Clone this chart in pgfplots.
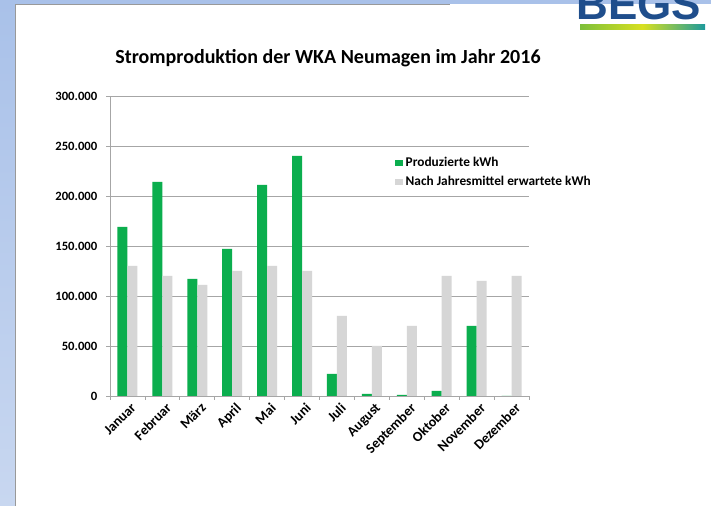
\documentclass[border=0pt]{standalone}
\usepackage{pgfplots}
\pgfplotsset{compat=1.18}
\usepackage{fontspec}
\setmainfont{Carlito}
\newfontfamily\logofont{Liberation Sans}
\definecolor{barGreen}{HTML}{0BAE4E}
\definecolor{barGray}{HTML}{D6D6D6}
\definecolor{gridGray}{HTML}{A6A6A6}
\definecolor{slideBlue}{HTML}{A9C1E9}
\definecolor{slideBlueLight}{HTML}{C8D7F0}
\definecolor{logoBlue}{HTML}{1F4E8C}
\definecolor{logoGreen}{HTML}{7DBF3A}
\definecolor{logoYellow}{HTML}{D8E021}
\definecolor{logoTeal}{HTML}{1C9A9C}
\pgfplotsset{sqlegend/.style={legend image code/.code={\fill[##1] (-1pt,-2.3pt) rectangle (5pt,2.3pt);}}}
\pgfplotstableread{
x prod exp
0 169000 130000
1 214000 120000
2 117000 111000
3 147000 125000
4 211000 130000
5 240000 125000
6 22000 80000
7 2000 50000
8 1000 70000
9 5000 120000
10 70000 115000
11 0 120000
}\datatable
\begin{document}
\begin{tikzpicture}
\begin{scope}[x=0.75pt,y=0.75pt]
\useasboundingbox (0,0) rectangle (711,506);
\shade[top color=slideBlue, bottom color=slideBlueLight] (0,0) rectangle (15,506);
\fill[slideBlue] (0,501) rectangle (711,506);
\fill[white] (15,0) rectangle (711,502);
\draw[gray!80, line width=0.6pt] (15,0) -- (15,502) -- (450,502);
\node[font=\logofont\bfseries\fontsize{33}{33}\selectfont, text=logoBlue, anchor=base west, inner sep=0pt] at (576,486) {BEGS};
\shade[left color=logoGreen, right color=logoTeal, middle color=logoYellow] (580,476) rectangle (705,481);
\node[font=\bfseries\fontsize{15}{17}\selectfont] at (328,448) {Stromproduktion der WKA Neumagen im Jahr 2016};
\end{scope}
\begin{axis}[
  at={(82.5pt,82.5pt)}, anchor=south west,
  scale only axis, width=314.25pt, height=225pt,
  xmin=-0.5, xmax=11.5, ymin=0, ymax=300000,
  ybar=0pt, bar width=7.5pt,
  axis x line*=bottom, axis y line*=left,
  axis line style={gridGray, line width=0.6pt},
  ymajorgrids, grid style={gridGray, line width=0.6pt},
  ytick={0,50000,100000,150000,200000,250000,300000},
  scaled y ticks=false,
  /pgf/number format/.cd, fixed, 1000 sep={.}, assume math mode=true, /pgfplots/.cd,
  tick label style={font=\bfseries\fontsize{9.5}{11}\selectfont, text=black},
  yticklabel style={xshift=-3pt},
  xtick={0,...,11},
  xticklabels={Januar,Februar,März,April,Mai,Juni,Juli,August,September,Oktober,November,Dezember},
  xticklabel style={rotate=45, anchor=north east, inner sep=1pt, xshift=1.5pt, yshift=-1.5pt, font=\bfseries\fontsize{10.5}{12}\selectfont},
  major x tick style={draw=none},
  minor xtick={-0.5,0.5,...,11.5},
  tick align=outside, major tick length=3pt, minor tick length=3pt,
  tick style={gridGray, line width=0.6pt},
  legend style={at={(0.67,0.815)}, anchor=north west, draw=none, fill=none,
    font=\bfseries\fontsize{10}{12}\selectfont, row sep=2pt},
  legend cell align=left,
]
\addplot[fill=barGreen, draw=none, sqlegend] table[x=x, y=prod] {\datatable};
\addplot[fill=barGray, draw=none, sqlegend] table[x=x, y=exp] {\datatable};
\legend{Produzierte kWh, Nach Jahresmittel erwartete kWh}
\end{axis}
\end{tikzpicture}
\end{document}
